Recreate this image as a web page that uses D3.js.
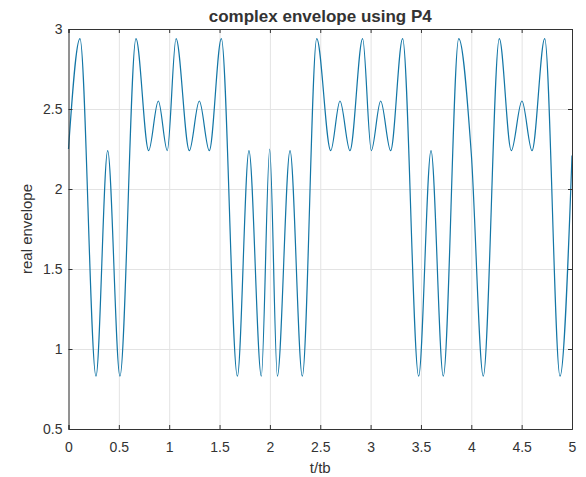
<!DOCTYPE html>
<html>
<head>
<meta charset="utf-8">
<script src="https://cdn.jsdelivr.net/npm/d3@7"></script>
<style>
  body { margin: 0; background: #fff; overflow: hidden; }
  text { font-family: "Liberation Sans", Arial, sans-serif; fill: #333; }
</style>
</head>
<body>
<div id="chart"></div>
<script>
// extrema of the envelope (t/tb, value)
const tValues = [0, 0.114, 0.273, 0.389, 0.511, 0.670, 0.796, 0.892, 0.981, 1.068,
  1.200, 1.299, 1.398, 1.518, 1.677, 1.792, 1.915, 1.998, 2.074, 2.200,
  2.322, 2.465, 2.604, 2.696, 2.795, 2.921, 3.007, 3.100, 3.199, 3.318,
  3.477, 3.600, 3.722, 3.875, 4.000, 4.119, 4.278, 4.397, 4.503,
  4.603, 4.729, 4.881, 5.0];
const envValues = [2.25, 2.94, 0.83, 2.24, 0.83, 2.94, 2.24, 2.55, 2.24, 2.94,
  2.24, 2.55, 2.24, 2.94, 0.83, 2.24, 0.83, 2.25, 0.83, 2.24,
  0.83, 2.94, 2.24, 2.55, 2.24, 2.94, 2.24, 2.55, 2.24, 2.94,
  0.83, 2.24, 0.83, 2.94, 2.22, 0.83, 2.94, 2.24, 2.55,
  2.24, 2.94, 0.83, 2.21];
const xTicks = [0, 0.5, 1, 1.5, 2, 2.5, 3, 3.5, 4, 4.5, 5];
const yTicks = [0.5, 1, 1.5, 2, 2.5, 3];

const width = 586;
const height = 477;
const margin = { top: 29, right: 14, bottom: 48, left: 68.5 };
const innerWidth = width - margin.left - margin.right;
const innerHeight = height - margin.top - margin.bottom;

const data = tValues.map((t, i) => ({ t: t, v: envValues[i] }));

const svg = d3.select("#chart")
  .append("svg")
    .attr("width", width)
    .attr("height", height)
    .style("display", "block");

const innerChart = svg
  .append("g")
    .attr("transform", `translate(${margin.left}, ${margin.top})`);

const xScale = d3.scaleLinear()
  .domain([0, 5])
  .range([0, innerWidth]);

const yScale = d3.scaleLinear()
  .domain([0.5, 3])
  .range([innerHeight, 0]);

// grid
innerChart.append("g")
    .attr("class", "grid")
    .attr("transform", `translate(0, ${innerHeight})`)
    .call(d3.axisBottom(xScale).tickValues(xTicks).tickSize(-innerHeight).tickFormat(""));
innerChart.append("g")
    .attr("class", "grid")
    .call(d3.axisLeft(yScale).tickValues(yTicks).tickSize(-innerWidth).tickFormat(""));
innerChart.selectAll(".grid .domain").remove();
innerChart.selectAll(".grid text").remove();
innerChart.selectAll(".grid line")
    .attr("stroke", "#e3e3e3")
    .attr("stroke-width", 1);

// the envelope
const line = d3.line()
  .x(d => xScale(d.t))
  .y(d => yScale(d.v))
  .curve(d3.curveMonotoneX);

innerChart.append("path")
    .datum(data)
    .attr("d", line)
    .attr("fill", "none")
    .attr("stroke", "#1376a6")
    .attr("stroke-width", 1.2);

// axes, MATLAB style: ticks pointing in, box on
const fmt = d3.format("~g");

const bottomAxis = d3.axisBottom(xScale)
  .tickValues(xTicks)
  .tickFormat(fmt)
  .tickSize(-4)
  .tickPadding(13);
innerChart.append("g")
    .attr("class", "axis")
    .attr("transform", `translate(0, ${innerHeight})`)
    .call(bottomAxis);

const leftAxis = d3.axisLeft(yScale)
  .tickValues(yTicks)
  .tickFormat(fmt)
  .tickSize(-4)
  .tickPadding(6);
innerChart.append("g")
    .attr("class", "axis")
    .call(leftAxis);

innerChart.append("g")
    .attr("class", "axis box")
    .call(d3.axisTop(xScale).tickValues(xTicks).tickSize(-4).tickFormat(""));
innerChart.append("g")
    .attr("class", "axis box")
    .attr("transform", `translate(${innerWidth}, 0)`)
    .call(d3.axisRight(yScale).tickValues(yTicks).tickSize(-4).tickFormat(""));
innerChart.selectAll(".box text").remove();

innerChart.selectAll(".axis .domain").attr("stroke", "#333");
innerChart.selectAll(".axis line").attr("stroke", "#333");
innerChart.selectAll(".axis text")
    .attr("font-family", "Liberation Sans, Arial, sans-serif")
    .attr("font-size", 14)
    .attr("fill", "#333");

// labels
svg.append("text")
    .attr("x", margin.left + innerWidth / 2)
    .attr("y", 22)
    .attr("text-anchor", "middle")
    .attr("font-size", 17)
    .attr("font-weight", "bold")
    .attr("fill", "#111")
    .text("complex envelope using P4");

svg.append("text")
    .attr("x", margin.left + innerWidth / 2)
    .attr("y", 473)
    .attr("text-anchor", "middle")
    .attr("font-size", 15)
    .text("t/tb");

svg.append("text")
    .attr("transform", `translate(32, ${margin.top + innerHeight / 2}) rotate(-90)`)
    .attr("text-anchor", "middle")
    .attr("font-size", 15)
    .text("real envelope");
</script>
</body>
</html>
